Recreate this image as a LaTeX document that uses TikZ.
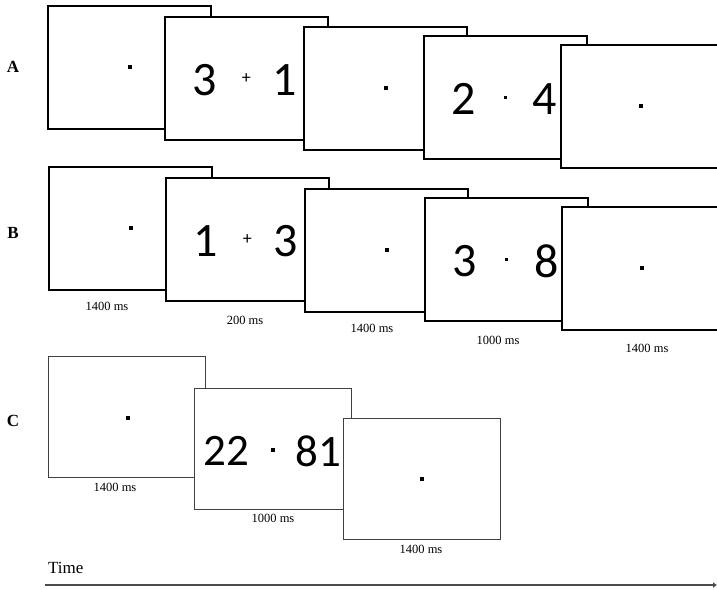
\documentclass[tikz,border=0pt]{standalone}
\usepackage{fontspec}
\setmainfont{Liberation Serif}
\newfontfamily\digitfont{Carlito}
\usepackage{tikz}
\usetikzlibrary{arrows.meta}

\begin{document}
\begin{tikzpicture}[x=1pt,y=-1pt,
  frame/.style ={draw,fill=white,line width=1.5pt,anchor=north west,
                 inner sep=0pt,minimum width=163pt,minimum height=123pt},
  cframe/.style={frame,draw=black!75,line width=1.1pt,
                 minimum width=157pt,minimum height=121pt},
  fix/.style   ={fill=black,inner sep=0pt,minimum size=4pt},
  mid/.style   ={fill=black,inner sep=0pt,minimum size=3.5pt},
  digit/.style ={font=\digitfont\fontsize{48}{48}\selectfont,inner sep=0pt},
  cdigit/.style={font=\digitfont\fontsize{45}{45}\selectfont,inner sep=0pt},
  plus/.style  ={font=\digitfont\fontsize{18}{18}\selectfont,inner sep=0pt},
  dur/.style   ={font=\fontsize{12.5}{12.5}\selectfont,inner sep=0pt},
  row/.style   ={font=\fontsize{17}{17}\selectfont\bfseries,inner sep=0pt}
]
\clip (0,0) rectangle (717,589);

%% Row A
\node[row] (la) at (13,67) {A};
\node[frame] (a1) at (47,5)   {};
\node[fix] at ([xshift=1pt]a1.center) {};
\node[frame] (a2) at (164,16) {};
\node[digit] at ([xshift=-42pt,yshift=-2pt]a2.center) {3};
\node[plus]  at (a2.center) {+};
\node[digit] at ([xshift=38pt,yshift=-2pt]a2.center) {1};
\node[frame] (a3) at (303,26) {};
\node[fix] at ([xshift=1pt]a3.center) {};
\node[frame] (a4) at (423,35) {};
\node[digit] at ([xshift=-42pt,yshift=-2pt]a4.center) {2};
\node[mid]   at (a4.center) {};
\node[digit] at ([xshift=39pt,yshift=-2pt]a4.center) {4};
\node[frame] (a5) at (560,44) {};
\node[fix] at ([xshift=-1pt]a5.center) {};

%% Row B
\node[row] (lb) at (13,233) {B};
\node[frame] (b1) at (48,166)  {};
\node[fix] at ([xshift=1pt]b1.center) {};
\node[frame] (b2) at (165,177) {};
\node[digit] at ([xshift=-42pt,yshift=-2pt]b2.center) {1};
\node[plus]  at (b2.center) {+};
\node[digit] at ([xshift=38pt,yshift=-2pt]b2.center) {3};
\node[frame] (b3) at (304,188) {};
\node[fix] at ([xshift=1pt]b3.center) {};
\node[frame] (b4) at (424,197) {};
\node[digit] at ([xshift=-42pt,yshift=-2pt]b4.center) {3};
\node[mid]   at (b4.center) {};
\node[digit] at ([xshift=40pt,yshift=-2pt]b4.center) {8};
\node[frame] (b5) at (561,206) {};
\node[fix] at ([xshift=-1pt]b5.center) {};

%% Durations, row B
\node[dur] (tb1) at (107,306) {1400 ms};
\node[dur] (tb2) at (245,320) {200 ms};
\node[dur] (tb3) at (372,328) {1400 ms};
\node[dur] (tb4) at (498,340) {1000 ms};
\node[dur] (tb5) at (647,348) {1400 ms};

%% Row C
\node[row] (lc) at (13,421) {C};
\node[cframe] (c1) at (48,356)  {};
\node[fix] at ([xshift=1pt,yshift=-1pt]c1.center) {};
\node[cframe] (c2) at (194,388) {};
\node[cdigit] at ([xshift=-47pt,yshift=-2pt]c2.center) {22};
\node[mid]    at ([yshift=-1pt]c2.center) {};
\node[cdigit] at ([xshift=45pt,yshift=-2pt]c2.center) {81};
\node[cframe] (c3) at (343,418) {};
\node[fix] at (c3.center) {};

%% Durations, row C
\node[dur] (tc1) at (115,487) {1400 ms};
\node[dur] (tc2) at (273,518) {1000 ms};
\node[dur] (tc3) at (421,549) {1400 ms};

%% Time axis
\node[font=\fontsize{17}{17}\selectfont,anchor=west,inner sep=0pt] (time) at (48,568) {Time};
\coordinate (t0) at (45,585);
\coordinate (t1) at (717,585);
\draw[black!70,line width=2.2pt,-{Latex[length=4pt,width=6pt]}] (t0) -- (t1);
\end{tikzpicture}
\end{document}
